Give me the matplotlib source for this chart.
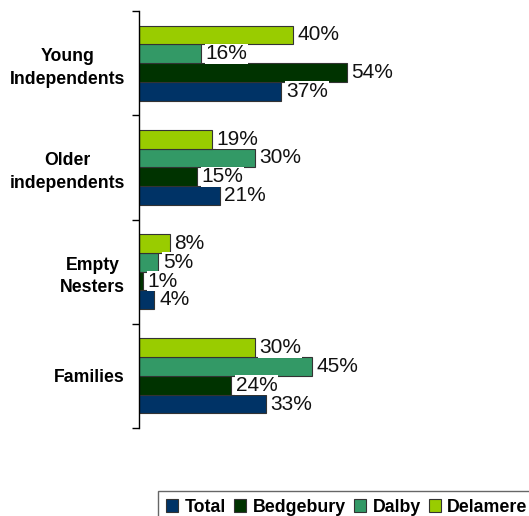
import matplotlib.pyplot as plt
import numpy as np
from matplotlib.patches import Patch

plt.rcParams['font.family'] = ['Liberation Sans', 'DejaVu Sans']

# data (percent)
categories = ['Young\nIndependents', 'Older\nindependents', 'Empty\nNesters', 'Families']
series = ['Total', 'Bedgebury', 'Dalby', 'Delamere']
total = [37, 21, 4, 33]
bedgebury = [54, 15, 1, 24]
dalby = [16, 30, 5, 45]
delamere = [40, 19, 8, 30]
colors = ['#003366', '#003300', '#339966', '#99cc00']

values = [total, bedgebury, dalby, delamere]

fig = plt.figure(figsize=(5.29, 5.16), dpi=100)
ax = fig.add_axes([139 / 529, 1 - 428 / 516, 385 / 529, 417 / 516])

n = len(categories)
pos = np.arange(n)
h = 0.18
offsets = [1.5 * h, 0.5 * h, -0.5 * h, -1.5 * h]  # Total at bottom, Delamere on top

for vals, col, off in zip(values, colors, offsets):
    bars = ax.barh(pos + off, vals, height=h, color=col, edgecolor='#333333', linewidth=0.8)
    for b, v in zip(bars, vals):
        ax.text(b.get_width() + 1.2, b.get_y() + b.get_height() / 2, f'{v}%',
                va='center', ha='left', fontsize=15, color='#111111',
                bbox=dict(facecolor='white', edgecolor='none', pad=0.5))

ax.set_ylim(n - 0.5, -0.5)
ax.set_xlim(0, 100)
ax.set_yticks(pos)
ax.set_yticklabels(categories, fontsize=12.7, fontweight='bold', multialignment='center',
                   linespacing=1.45)
ax.tick_params(axis='y', which='major', length=0, pad=10)
ax.set_yticks(np.arange(-0.5, n, 1), minor=True)
ax.tick_params(axis='y', which='minor', length=5, width=1, direction='out')
ax.set_xticks([])
for s in ['top', 'right', 'bottom']:
    ax.spines[s].set_visible(False)
ax.spines['left'].set_linewidth(1)

handles = [Patch(facecolor=c, edgecolor='#333333', linewidth=0.8) for c in colors]
leg = fig.legend(handles, series, loc='upper left', bbox_to_anchor=(158 / 529, 1 - 491 / 516),
                 ncol=4, frameon=True, fancybox=False, edgecolor='#404040',
                 prop={'size': 12.8, 'weight': 'bold'}, handlelength=0.7, handleheight=0.75,
                 handletextpad=0.35, columnspacing=0.45, borderaxespad=0, borderpad=0.45)
leg.get_frame().set_linewidth(1)

fig.savefig('out.png', dpi=100)
